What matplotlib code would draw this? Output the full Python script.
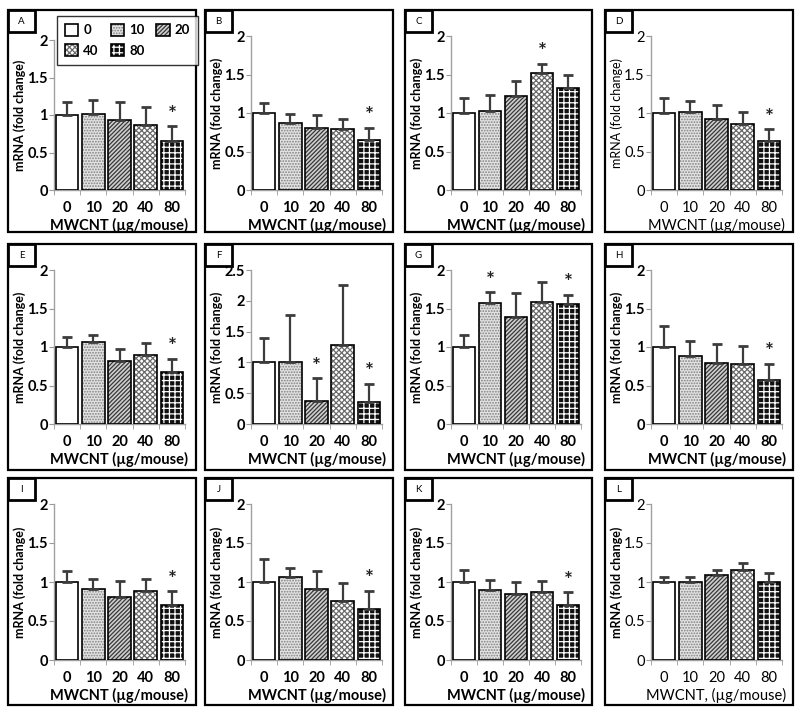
import matplotlib
matplotlib.use("Agg")
import matplotlib.pyplot as plt
from matplotlib.patches import Rectangle
from matplotlib.legend_handler import HandlerTuple

plt.rcParams['font.family'] = ['Lato', 'DejaVu Sans']
plt.rcParams['hatch.linewidth'] = 0.9

# doses (µg/mouse)
doses = ['0', '10', '20', '40', '80']

# bar heights (fold change) and upward error (SD) per panel
means_A = [1.00, 1.02, 0.93, 0.87, 0.66]
sd_A = [0.18, 0.18, 0.24, 0.24, 0.19]
means_B = [1.00, 0.87, 0.80, 0.79, 0.65]
sd_B = [0.13, 0.12, 0.17, 0.13, 0.16]
means_C = [1.00, 1.02, 1.22, 1.52, 1.33]
sd_C = [0.19, 0.21, 0.20, 0.12, 0.16]
means_D = [1.00, 1.01, 0.92, 0.86, 0.64]
sd_D = [0.20, 0.14, 0.18, 0.15, 0.15]
means_E = [1.00, 1.07, 0.82, 0.90, 0.67]
sd_E = [0.13, 0.08, 0.16, 0.15, 0.18]
means_F = [1.00, 1.00, 0.37, 1.29, 0.35]
sd_F = [0.40, 0.77, 0.37, 0.96, 0.30]
means_G = [1.00, 1.57, 1.39, 1.58, 1.56]
sd_G = [0.16, 0.14, 0.31, 0.26, 0.12]
means_H = [1.00, 0.88, 0.79, 0.78, 0.57]
sd_H = [0.27, 0.20, 0.25, 0.23, 0.21]
means_I = [1.00, 0.91, 0.81, 0.89, 0.70]
sd_I = [0.14, 0.13, 0.20, 0.15, 0.18]
means_J = [1.00, 1.06, 0.91, 0.76, 0.65]
sd_J = [0.29, 0.12, 0.23, 0.23, 0.24]
means_K = [1.00, 0.90, 0.84, 0.87, 0.70]
sd_K = [0.15, 0.12, 0.16, 0.14, 0.17]
means_L = [1.00, 1.00, 1.09, 1.15, 1.00]
sd_L = [0.07, 0.07, 0.07, 0.10, 0.11]

# which doses carry an asterisk
sig_A = [4]
sig_B = [4]
sig_C = [3]
sig_D = [4]
sig_E = [4]
sig_F = [2, 4]
sig_G = [1, 4]
sig_H = [4]
sig_I = [4]
sig_J = [4]
sig_K = [4]
sig_L = []

letters = ['A', 'B', 'C', 'D', 'E', 'F', 'G', 'H', 'I', 'J', 'K', 'L']
all_means = [means_A, means_B, means_C, means_D, means_E, means_F,
             means_G, means_H, means_I, means_J, means_K, means_L]
all_sd = [sd_A, sd_B, sd_C, sd_D, sd_E, sd_F, sd_G, sd_H, sd_I, sd_J, sd_K, sd_L]
all_sig = [sig_A, sig_B, sig_C, sig_D, sig_E, sig_F, sig_G, sig_H, sig_I, sig_J, sig_K, sig_L]
ymax = [2, 2, 2, 2, 2, 2.5, 2, 2, 2, 2, 2, 2]

# bar styles: face colour, hatch, hatch colour
styles = [
    ('white', '', 'white'),
    ('#e4e4e4', '......', '#808080'),
    ('#cfcfcf', '////////', '#383838'),
    ('white', 'xxxxxx', '#6a6a6a'),
    ('#111111', '+++', 'white'),
]

W, H = 800, 715
fig = plt.figure(figsize=(W / 100, H / 100), dpi=100)

col_left = [8, 205, 405, 605]
col_right = [196, 393, 592, 793]
row_top = [10, 244, 478]
row_bot = [232, 470, 705]
row_axbot = [190, 424, 660]

legend_handles = []
for k, letter in enumerate(letters):
    r, c = divmod(k, 4)
    pl, pr, pt, pb = col_left[c], col_right[c], row_top[r], row_bot[r]

    # panel frame
    fig.add_artist(Rectangle((pl / W, 1 - pb / H), (pr - pl) / W, (pb - pt) / H,
                             transform=fig.transFigure, fill=False, lw=1.6, ec='black'))

    top = pt + (30 if letter == 'A' else 26)
    bot = row_axbot[r]
    ax = fig.add_axes([(pl + 46) / W, 1 - bot / H, (pr - 11 - pl - 46) / W, (bot - top) / H])

    means = all_means[k]
    sd = all_sd[k]
    x = list(range(len(doses)))
    for i in x:
        fc, hatch, hc = styles[i]
        p1 = ax.bar(i, means[i], width=0.86, color=fc, edgecolor=hc, hatch=hatch, lw=0, zorder=2)
        p2 = ax.bar(i, means[i], width=0.86, fill=False, edgecolor='black', lw=1.2, zorder=3)
        if k == 0:
            legend_handles.append((p1[0], p2[0]))
    ax.errorbar(x, means, yerr=[[0] * 5, sd], fmt='none', ecolor='#3c3c3c',
                elinewidth=1.6, capsize=3.5, capthick=2.0, zorder=4)
    for i in all_sig[k]:
        ax.text(i, means[i] + sd[i] + 0.01 * ymax[k], '*', ha='center', va='bottom',
                fontsize=15, fontweight='bold', color='#222222', zorder=5)

    bold = letter not in ('D', 'L')
    fw = 'bold' if bold else 'normal'
    ax.set_xlim(-0.5, 4.5)
    ax.set_ylim(0, ymax[k])
    nt = int(ymax[k] / 0.5) + 1
    ax.set_yticks([v * 0.5 for v in range(nt)])
    ax.set_yticklabels(['%g' % (v * 0.5) for v in range(nt)], fontsize=10.5, fontweight=fw)
    ax.set_xticks(x)
    ax.set_xticklabels(doses, fontsize=10.5, fontweight=fw)
    ax.set_xticks([i - 0.5 for i in range(6)], minor=True)
    ax.tick_params(axis='x', which='major', length=0, pad=8)
    ax.tick_params(axis='x', which='minor', length=3.5, color='#9a9a9a', direction='out')
    ax.tick_params(axis='y', length=3.5, color='#9a9a9a', pad=1)
    for s in ('top', 'right'):
        ax.spines[s].set_visible(False)
    for s in ('left', 'bottom'):
        ax.spines[s].set_color('#a0a0a0')
        ax.spines[s].set_linewidth(1.0)
    ax.set_ylabel('mRNA (fold change)', fontsize=9, fontweight='bold' if letter != 'D' else 'normal',
                  labelpad=1)
    xl = 'MWCNT, (µg/mouse)' if letter == 'L' else 'MWCNT (µg/mouse)'
    ax.set_xlabel(xl, fontsize=10.5, fontweight=fw, labelpad=2)

    # letter box
    fig.add_artist(Rectangle((pl / W, 1 - (pt + 22) / H), 27 / W, 22 / H,
                             transform=fig.transFigure, fc='white', lw=2.0, ec='black', zorder=10))
    fig.text((pl + 13.5) / W, 1 - (pt + 11) / H, letter, ha='center', va='center', fontsize=7,
             zorder=11)

# legend in panel A, filled row by row (0 10 20 / 40 80)
order = [0, 3, 1, 4, 2]
leg = fig.legend([legend_handles[i] for i in order], [doses[i] for i in order], ncol=3,
                 loc='upper left', bbox_to_anchor=(57 / W, 1 - 16 / H), frameon=True,
                 fancybox=False, handler_map={tuple: HandlerTuple(ndivide=1)},
                 prop={'size': 9.5, 'weight': 'bold'}, handlelength=1.0, handleheight=1.0,
                 columnspacing=0.9, handletextpad=0.4, borderpad=0.6, labelspacing=0.6,
                 borderaxespad=0)
leg.get_frame().set_edgecolor('black')
leg.get_frame().set_linewidth(1.0)
leg.set_zorder(20)

fig.savefig('out.png', dpi=100)
